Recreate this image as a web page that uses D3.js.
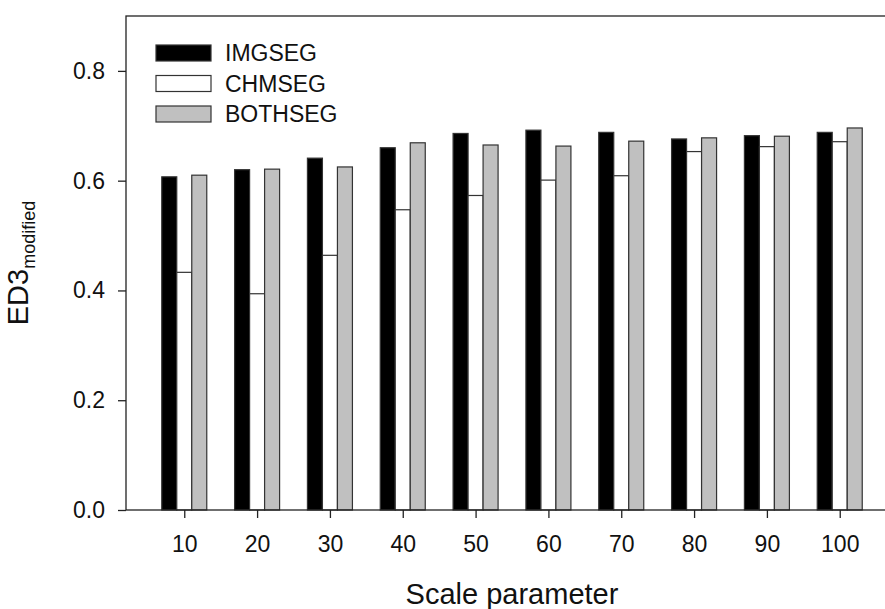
<!DOCTYPE html>
<html>
<head>
	<meta charset="utf-8">
	<title>ED3 modified vs scale parameter</title>
	<style type="text/css">
		body {
			margin: 0;
			font-family: 'Liberation Sans', Arial, sans-serif;
			background: white;
		}
		svg {
			display: block;
		}
	</style>
	<script src="https://d3js.org/d3.v7.min.js"></script>
</head>
<body>
	<svg width="885" height="609"></svg>
	<script type="text/javascript">
		var scaleParams = ['10', '20', '30', '40', '50', '60', '70', '80', '90', '100'];
		var seriesNames = ['IMGSEG', 'CHMSEG', 'BOTHSEG'];
		var imgseg = [0.607, 0.620, 0.641, 0.660, 0.686, 0.692, 0.688, 0.676, 0.682, 0.688];
		var chmseg = [0.433, 0.394, 0.464, 0.547, 0.573, 0.601, 0.609, 0.653, 0.662, 0.671];
		var bothseg = [0.610, 0.621, 0.625, 0.669, 0.665, 0.663, 0.672, 0.678, 0.681, 0.696];
		var yTicks = [0.0, 0.2, 0.4, 0.6, 0.8];

		var seriesValues = [imgseg, chmseg, bothseg];
		var seriesFill = ['#000000', '#ffffff', '#c0c0c0'];

		var svg = d3.select('svg');

		// plot box (right edge runs past the picture, like the original)
		var plotL = 126, plotR = 898, plotT = 16, plotB = 510;

		var x = d3.scalePoint()
			.domain(scaleParams)
			.range([plotL, plotR])
			.padding(0.8);

		var y = d3.scaleLinear()
			.domain([0, 0.9])
			.range([plotB, plotT]);

		var barW = 15;
		var offset = d3.scaleBand()
			.domain(seriesNames)
			.range([-1.5 * barW, 1.5 * barW]);

		// bars
		seriesNames.forEach(function (name, s) {
			svg.append('g')
				.selectAll('rect')
				.data(seriesValues[s])
				.enter()
				.append('rect')
				.attr('x', (d, i) => x(scaleParams[i]) + offset(name))
				.attr('y', (d) => y(d))
				.attr('width', offset.bandwidth())
				.attr('height', (d) => y(0) - y(d))
				.attr('fill', seriesFill[s])
				.attr('stroke', '#333')
				.attr('stroke-width', 1.2);
		});

		// frame
		svg.append('rect')
			.attr('x', plotL)
			.attr('y', plotT)
			.attr('width', plotR - plotL)
			.attr('height', plotB - plotT)
			.attr('fill', 'none')
			.attr('stroke', '#222')
			.attr('stroke-width', 1.3);

		// axes
		var yAxis = d3.axisLeft(y)
			.tickValues(yTicks)
			.tickFormat(d3.format('.1f'))
			.tickSize(8)
			.tickPadding(13)
			.tickSizeOuter(0);

		var xAxis = d3.axisBottom(x)
			.tickSize(8)
			.tickPadding(18)
			.tickSizeOuter(0);

		var gy = svg.append('g')
			.attr('transform', 'translate(' + plotL + ',0)')
			.call(yAxis);

		var gx = svg.append('g')
			.attr('transform', 'translate(0,' + plotB + ')')
			.call(xAxis);

		[gx, gy].forEach(function (g) {
			g.select('.domain').remove();
			g.selectAll('line').attr('stroke', '#222').attr('stroke-width', 1.3);
			g.selectAll('text')
				.attr('fill', '#111')
				.style('font-family', "'Liberation Sans', Arial, sans-serif")
				.style('font-size', '23px');
		});

		// axis titles
		svg.append('text')
			.attr('x', (plotL + plotR) / 2)
			.attr('y', 604)
			.attr('text-anchor', 'middle')
			.style('font-size', '29px')
			.attr('fill', '#111')
			.text('Scale parameter');

		var yTitle = svg.append('text')
			.attr('transform', 'translate(28,' + (plotT + plotB) / 2 + ') rotate(-90)')
			.attr('text-anchor', 'middle')
			.attr('fill', '#111');
		yTitle.append('tspan')
			.style('font-size', '29px')
			.text('ED3');
		yTitle.append('tspan')
			.attr('dy', 7)
			.style('font-size', '18px')
			.text('modified');

		// legend
		var legend = svg.append('g')
			.selectAll('g')
			.data(seriesNames)
			.enter()
			.append('g')
			.attr('transform', (d, i) => 'translate(156,' + (45 + i * 30.5) + ')');

		legend.append('rect')
			.attr('width', 55)
			.attr('height', 16)
			.attr('fill', (d, i) => seriesFill[i])
			.attr('stroke', '#333')
			.attr('stroke-width', 1.2);

		legend.append('text')
			.attr('x', 69)
			.attr('y', 16)
			.style('font-size', '23px')
			.attr('fill', '#111')
			.text((d) => d);
	</script>
</body>
</html>
